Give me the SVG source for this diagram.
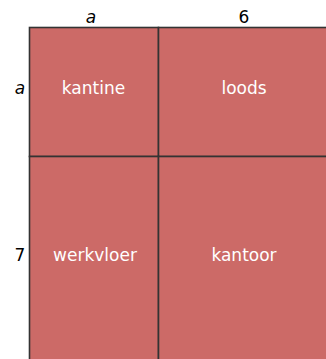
<svg xmlns="http://www.w3.org/2000/svg" width="326" height="359" viewBox="0 0 326 359">
<style>
.cell{fill:#cc6a67;stroke:#333;stroke-width:1.6}
.lbl{font-family:"DejaVu Sans",sans-serif;font-size:17px;fill:#fff;text-anchor:middle}
.ax{font-family:"DejaVu Sans",sans-serif;font-size:17px;fill:#000;text-anchor:middle}
</style>
<rect width="326" height="359" fill="#fff"/>
<g id="kantine"><rect class="cell" x="29.5" y="27.5" width="129" height="129"/><text class="lbl" x="93.5" y="94">kantine</text></g>
<g id="loods"><rect class="cell" x="158.5" y="27.5" width="170" height="129"/><text class="lbl" x="244" y="94">loods</text></g>
<g id="werkvloer"><rect class="cell" x="29.5" y="156.5" width="129" height="205"/><text class="lbl" x="95" y="261">werkvloer</text></g>
<g id="kantoor"><rect class="cell" x="158.5" y="156.5" width="170" height="205"/><text class="lbl" x="244" y="261">kantoor</text></g>
<g id="connectors"></g>
<g id="axes">
<text class="ax" x="91" y="23" font-style="italic">a</text>
<text class="ax" x="244" y="23">6</text>
<text class="ax" x="20" y="94" font-style="italic">a</text>
<text class="ax" x="20" y="261">7</text>
</g>
</svg>
